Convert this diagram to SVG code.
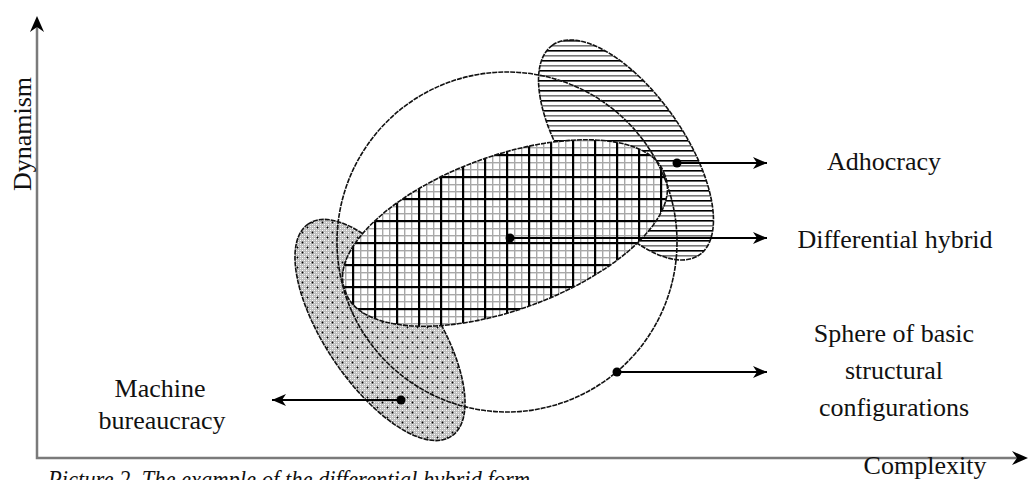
<svg xmlns="http://www.w3.org/2000/svg" width="1029" height="480" viewBox="0 0 1029 480">
<defs>
<style>
.lbl{font-family:"Liberation Serif","Times New Roman",serif;font-size:26px;fill:#111;text-anchor:middle}
.cap{font-family:"Liberation Serif","Times New Roman",serif;font-size:25px;font-style:italic;fill:#111}
.outline{stroke:#111;stroke-width:1.6;stroke-dasharray:5 1}
.conn{stroke:#000;stroke-width:2;fill:none}
.axis{stroke:#7a7a7a;stroke-width:2.5;fill:none}
.dot{fill:#000}
</style>
<pattern id="gridP" patternUnits="userSpaceOnUse" width="22" height="22">
<rect width="22" height="22" fill="#fff"/>
<rect x="8" y="0" width="1.4" height="22" fill="#a8a8a8"/>
<rect x="15" y="0" width="1.4" height="22" fill="#a8a8a8"/>
<rect x="0" y="8" width="22" height="1.4" fill="#a8a8a8"/>
<rect x="0" y="15" width="22" height="1.4" fill="#a8a8a8"/>
<rect x="0" y="0" width="2.2" height="22" fill="#000"/>
<rect x="0" y="0" width="22" height="2.2" fill="#000"/>
</pattern>
<pattern id="hatchP" patternUnits="userSpaceOnUse" width="10" height="10">
<rect width="10" height="10" fill="#fff"/>
<rect x="0" y="0" width="10" height="1.6" fill="#000"/>
<rect x="0" y="5" width="10" height="1.6" fill="#777"/>
</pattern>
<pattern id="checkP" patternUnits="userSpaceOnUse" width="4" height="4">
<rect width="4" height="4" fill="#bdbdbd"/>
<rect x="0" y="0" width="1" height="1" fill="#fff"/>
<rect x="2" y="2" width="1" height="1" fill="#fff"/>
<rect x="2" y="0" width="1" height="1" fill="#e0e0e0"/>
<rect x="0" y="2" width="1" height="1" fill="#e0e0e0"/>
</pattern>
<pattern id="dotP" patternUnits="userSpaceOnUse" width="10" height="10">
<circle cx="2.5" cy="2.5" r="0.9" fill="#000"/>
<circle cx="7.5" cy="7.5" r="0.9" fill="#000"/>
</pattern>
<marker id="arr" markerUnits="userSpaceOnUse" markerWidth="16" markerHeight="14" refX="14" refY="6" orient="auto">
<path d="M0,0 L14,6 L0,12 L4,6 Z" fill="#000"/>
</marker>
</defs>

<g id="axes">
<path class="axis" d="M37,24 L37,458 L1018,458"/>
<path d="M37,16 L44,32 L37,27 L30,32 Z" fill="#000"/>
<path d="M1028,458 L1012,451 L1017,458 L1012,465 Z" fill="#000"/>
<text class="lbl" transform="translate(31,134) rotate(-90)">Dynamism</text>
<text class="lbl" x="925" y="474">Complexity</text>
<text class="cap" x="48" y="488" textLength="482" lengthAdjust="spacingAndGlyphs">Picture 2. The example of the differential hybrid form</text>
</g>

<g id="adhocracy">
<path d="M552.6,45.1 A128,58 55 1 0 699.4,254.9 A128,58 55 1 0 552.6,45.1 Z" fill="url(#hatchP)" class="outline"/>
<text class="lbl" x="884" y="170">Adhocracy</text>
</g>

<g id="machine-bureaucracy">
<path d="M308.4,223.9 A128,55 56 1 0 451.6,436.1 A128,55 56 1 0 308.4,223.9 Z" fill="url(#checkP)"/>
<path d="M308.4,223.9 A128,55 56 1 0 451.6,436.1 A128,55 56 1 0 308.4,223.9 Z" fill="url(#dotP)" class="outline"/>
<text class="lbl" x="160" y="397">Machine</text>
<text class="lbl" x="162" y="429">bureaucracy</text>
</g>

<g id="differential-hybrid">
<path d="M664.7,174.9 A170,75 -20 1 0 345.3,291.1 A170,75 -20 1 0 664.7,174.9 Z" fill="url(#gridP)" class="outline"/>
<text class="lbl" x="895" y="248">Differential hybrid</text>
</g>

<g id="sphere">
<circle cx="507" cy="242" r="170" fill="none" class="outline"/>
<text class="lbl" x="894" y="342">Sphere of basic</text>
<text class="lbl" x="894" y="379">structural</text>
<text class="lbl" x="894" y="416">configurations</text>
</g>

<g id="connectors">
<line class="conn" x1="677" y1="163" x2="767" y2="163" marker-end="url(#arr)"/>
<circle class="dot" cx="677" cy="163" r="4.5"/>
<line class="conn" x1="510" y1="238" x2="767" y2="238" marker-end="url(#arr)"/>
<circle class="dot" cx="510" cy="238" r="4.5"/>
<line class="conn" x1="617" y1="372" x2="767" y2="372" marker-end="url(#arr)"/>
<circle class="dot" cx="617" cy="372" r="4.5"/>
<line class="conn" x1="401" y1="400" x2="272" y2="400" marker-end="url(#arr)"/>
<circle class="dot" cx="401" cy="400" r="4.5"/>
</g>
</svg>
